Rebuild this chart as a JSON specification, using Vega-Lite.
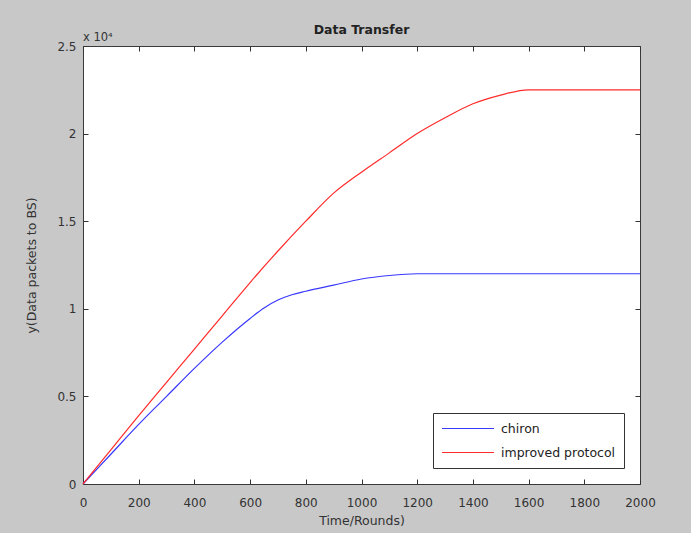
{
  "$schema": "https://vega.github.io/schema/vega-lite/v6.json",
  "width": 557,
  "height": 438,
  "autosize": {"type": "none"},
  "padding": {"left": 83, "top": 46, "right": 51, "bottom": 49},
  "background": "#c8c8c8",
  "config": {
    "view": {"fill": "white", "stroke": "#3a3a3a", "strokeWidth": 1},
    "font": "DejaVu Sans",
    "axis": {"grid": false, "domain": false, "zindex": 2, "tickColor": "#333", "tickWidth": 1, "tickSize": 5, "offset": -5, "labelColor": "#333", "labelFontSize": 12, "titleFontSize": 12.5, "titleFontWeight": "normal", "titleColor": "#333"}
  },
  "title": {"text": "Data Transfer", "fontSize": 12.5, "fontWeight": "bold", "color": "#222", "offset": -4},
  "data": {"values": [
    {"t": 0, "v": 0, "series": "chiron"},
    {"t": 100, "v": 1700, "series": "chiron"},
    {"t": 200, "v": 3400, "series": "chiron"},
    {"t": 300, "v": 5000, "series": "chiron"},
    {"t": 400, "v": 6600, "series": "chiron"},
    {"t": 500, "v": 8100, "series": "chiron"},
    {"t": 600, "v": 9450, "series": "chiron"},
    {"t": 650, "v": 10050, "series": "chiron"},
    {"t": 700, "v": 10500, "series": "chiron"},
    {"t": 750, "v": 10800, "series": "chiron"},
    {"t": 800, "v": 11000, "series": "chiron"},
    {"t": 900, "v": 11350, "series": "chiron"},
    {"t": 1000, "v": 11700, "series": "chiron"},
    {"t": 1100, "v": 11900, "series": "chiron"},
    {"t": 1200, "v": 12000, "series": "chiron"},
    {"t": 1400, "v": 12000, "series": "chiron"},
    {"t": 1600, "v": 12000, "series": "chiron"},
    {"t": 1800, "v": 12000, "series": "chiron"},
    {"t": 2000, "v": 12000, "series": "chiron"},
    {"t": 0, "v": 0, "series": "improved protocol"},
    {"t": 100, "v": 1950, "series": "improved protocol"},
    {"t": 200, "v": 3900, "series": "improved protocol"},
    {"t": 300, "v": 5800, "series": "improved protocol"},
    {"t": 400, "v": 7700, "series": "improved protocol"},
    {"t": 500, "v": 9600, "series": "improved protocol"},
    {"t": 600, "v": 11500, "series": "improved protocol"},
    {"t": 700, "v": 13300, "series": "improved protocol"},
    {"t": 800, "v": 15000, "series": "improved protocol"},
    {"t": 900, "v": 16600, "series": "improved protocol"},
    {"t": 1000, "v": 17800, "series": "improved protocol"},
    {"t": 1100, "v": 18900, "series": "improved protocol"},
    {"t": 1200, "v": 20000, "series": "improved protocol"},
    {"t": 1300, "v": 20900, "series": "improved protocol"},
    {"t": 1400, "v": 21700, "series": "improved protocol"},
    {"t": 1500, "v": 22200, "series": "improved protocol"},
    {"t": 1600, "v": 22500, "series": "improved protocol"},
    {"t": 1800, "v": 22500, "series": "improved protocol"},
    {"t": 2000, "v": 22500, "series": "improved protocol"}
  ]},
  "layer": [
    {
      "mark": {"type": "line", "strokeWidth": 1.2, "interpolate": "monotone"},
      "encoding": {
        "x": {"field": "t", "type": "quantitative", "scale": {"domain": [0, 2000], "nice": false},
              "axis": {"orient": "bottom", "values": [0,200,400,600,800,1000,1200,1400,1600,1800,2000], "format": "d", "labelPadding": 13, "title": "Time/Rounds)", "titlePadding": 6, "labelFlush": false}},
        "y": {"field": "v", "type": "quantitative", "scale": {"domain": [0, 25000], "nice": false},
              "axis": {"orient": "left", "values": [0,5000,10000,15000,20000,25000], "labelPadding": 7, "labelExpr": "toString(datum.value/10000)", "title": "y(Data packets to BS)", "titlePadding": 18}},
        "color": {"field": "series", "type": "nominal",
                  "scale": {"domain": ["chiron", "improved protocol"], "range": ["#3838ff", "#ff2a2a"]},
                  "legend": {"orient": "bottom-right", "title": null, "symbolType": "stroke", "symbolSize": 2700, "clipHeight": 15, "symbolStrokeWidth": 1.2, "labelFontSize": 12.5, "labelColor": "#222", "fillColor": "white", "strokeColor": "#333", "padding": 8, "offset": 16, "rowPadding": 9, "labelOffset": 6}}
      }
    },
    {
      "data": {"values": [{"x": 0, "y": 25000, "label": "x 10⁴"}]},
      "mark": {"type": "text", "align": "left", "baseline": "bottom", "dy": -3, "fontSize": 11.5, "color": "#333"},
      "encoding": {
        "x": {"field": "x", "type": "quantitative",
              "axis": {"orient": "top", "values": [0,200,400,600,800,1000,1200,1400,1600,1800,2000], "labels": false, "title": null}},
        "y": {"field": "y", "type": "quantitative",
              "axis": {"orient": "right", "values": [0,5000,10000,15000,20000,25000], "labels": false, "title": null}},
        "text": {"field": "label"}
      }
    }
  ],
  "resolve": {"axis": {"x": "independent", "y": "independent"}}
}
